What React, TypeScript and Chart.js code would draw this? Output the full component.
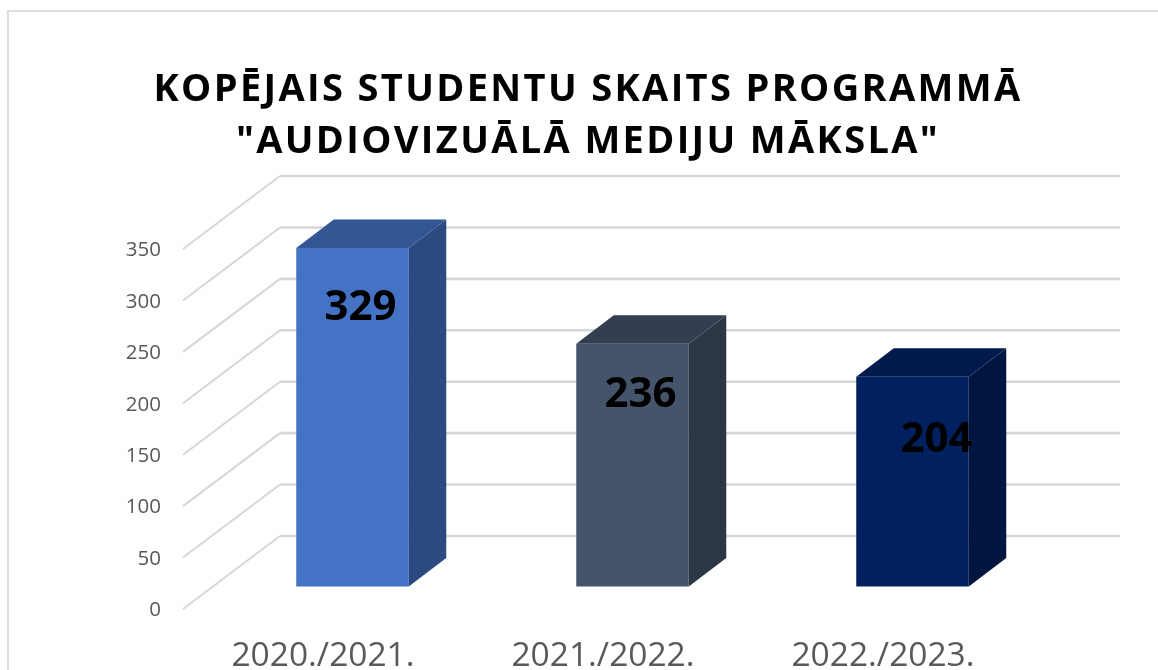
import React, { useEffect, useRef } from "react";
import { Chart, registerables } from "chart.js";

Chart.register(...registerables);

const titleLines = ["KOPĒJAIS STUDENTU SKAITS PROGRAMMĀ", '"AUDIOVIZUĀLĀ MEDIJU MĀKSLA"'];
const categories = ["2020./2021.", "2021./2022.", "2022./2023."];
const students = [329, 236, 204];
const frontColors = ["#4472C4", "#44546A", "#002060"];
const sideColors = ["#2B4A80", "#2C3745", "#00153F"];
const topColors = ["#355694", "#333F50", "#001A4D"];
const labelNudges = [
  [8, 60],
  [8, 51],
  [24, 63],
];

const WALL_DX = 97;
const WALL_DY = -73;
const BAR_DX = 29.5;
const BAR_DY = -22.5;
const DEPTH_DX = 37.5;
const DEPTH_DY = -28.5;
const GRID = "#D6D6D6";
const TITLE_SHIFT = 76.5;

const frame3d = {
  id: "frame3d",
  beforeDraw(chart: any) {
    const { ctx, width } = chart;
    ctx.save();
    ctx.strokeStyle = "#DEDEDE";
    ctx.lineWidth = 2;
    ctx.strokeRect(8, 11, width + 20, 700);
    ctx.restore();
  },
  afterLayout(chart: any) {
    const block = chart.titleBlock;
    if (block && !block.__spaced) {
      const draw = block.draw.bind(block);
      block.draw = () => {
        chart.ctx.save();
        chart.ctx.translate(TITLE_SHIFT, 0);
        chart.ctx.letterSpacing = "2.35px";
        draw();
        chart.ctx.restore();
      };
      block.__spaced = true;
    }
  },
  beforeDatasetsDraw(chart: any) {
    const { ctx, chartArea, scales } = chart;
    ctx.save();
    ctx.strokeStyle = GRID;
    for (const tick of scales.y.ticks) {
      const y = scales.y.getPixelForValue(tick.value);
      ctx.lineWidth = 2;
      ctx.beginPath();
      ctx.moveTo(chartArea.left, y);
      ctx.lineTo(chartArea.left + WALL_DX, y + WALL_DY);
      ctx.stroke();
      ctx.lineWidth = 2.6;
      ctx.beginPath();
      ctx.moveTo(chartArea.left + WALL_DX, y + WALL_DY);
      ctx.lineTo(chartArea.right + WALL_DX, y + WALL_DY);
      ctx.stroke();
    }
    ctx.restore();
    ctx.save();
    ctx.translate(BAR_DX, BAR_DY);
  },
  afterDatasetsDraw(chart: any) {
    const { ctx } = chart;
    ctx.restore();
    const bars = chart.getDatasetMeta(0).data;
    bars.forEach((bar: any, i: number) => {
      const left = bar.x - bar.width / 2 + BAR_DX;
      const right = bar.x + bar.width / 2 + BAR_DX;
      const top = bar.y + BAR_DY;
      const bottom = bar.base + BAR_DY;
      ctx.fillStyle = sideColors[i];
      ctx.beginPath();
      ctx.moveTo(right, top);
      ctx.lineTo(right + DEPTH_DX, top + DEPTH_DY);
      ctx.lineTo(right + DEPTH_DX, bottom + DEPTH_DY);
      ctx.lineTo(right, bottom);
      ctx.closePath();
      ctx.fill();
      ctx.fillStyle = topColors[i];
      ctx.beginPath();
      ctx.moveTo(left, top);
      ctx.lineTo(left + DEPTH_DX, top + DEPTH_DY);
      ctx.lineTo(right + DEPTH_DX, top + DEPTH_DY);
      ctx.lineTo(right, top);
      ctx.closePath();
      ctx.fill();
    });
    ctx.save();
    ctx.fillStyle = "#000000";
    ctx.font = "bold 42px 'Open Sans'";
    ctx.textAlign = "center";
    ctx.textBaseline = "middle";
    bars.forEach((bar: any, i: number) => {
      ctx.fillText(
        String(students[i]),
        bar.x + BAR_DX + labelNudges[i][0],
        bar.y + BAR_DY + labelNudges[i][1]
      );
    });
    ctx.restore();
  },
};

export default function App() {
  const ref = useRef<HTMLCanvasElement>(null);
  useEffect(() => {
    const chart = new Chart(ref.current as HTMLCanvasElement, {
      type: "bar",
      plugins: [frame3d],
      data: {
        labels: categories,
        datasets: [
          {
            data: students,
            backgroundColor: frontColors,
            borderWidth: 0,
            categoryPercentage: 1,
            barPercentage: 112.5 / 280,
            clip: false,
          } as any,
        ],
      },
      options: {
        animation: false,
        responsive: false,
        layout: { padding: { left: 0, right: 135, top: 0, bottom: 0 } },
        plugins: {
          legend: { display: false },
          tooltip: { enabled: false },
          title: {
            display: true,
            text: titleLines,
            color: "#000000",
            font: { family: "'Open Sans'", size: 38, weight: "bold", lineHeight: 52 / 38 },
            padding: { top: 64, bottom: 81 },
          },
        },
        scales: {
          x: {
            grid: { display: false, drawTicks: false },
            border: { display: false },
            afterFit: (s: any) => {
              s.height = 61;
            },
            ticks: {
              color: "#595959",
              font: { family: "'Open Sans'", size: 33.5 },
              padding: 27,
              maxRotation: 0,
            },
          },
          y: {
            min: 0,
            max: 350,
            grid: { display: false, drawTicks: false },
            border: { display: false },
            afterFit: (s: any) => {
              s.width = 183;
            },
            ticks: {
              stepSize: 50,
              color: "#595959",
              font: { family: "'Open Sans'", size: 20.5 },
              padding: 22,
              labelOffset: 1.5,
            },
          },
        },
      },
    } as any);
    return () => chart.destroy();
  }, []);
  return (
    <canvas
      ref={ref}
      width={1158}
      height={670}
      style={{ position: "absolute", left: 0, top: 0, width: 1158, height: 670 }}
    />
  );
}
